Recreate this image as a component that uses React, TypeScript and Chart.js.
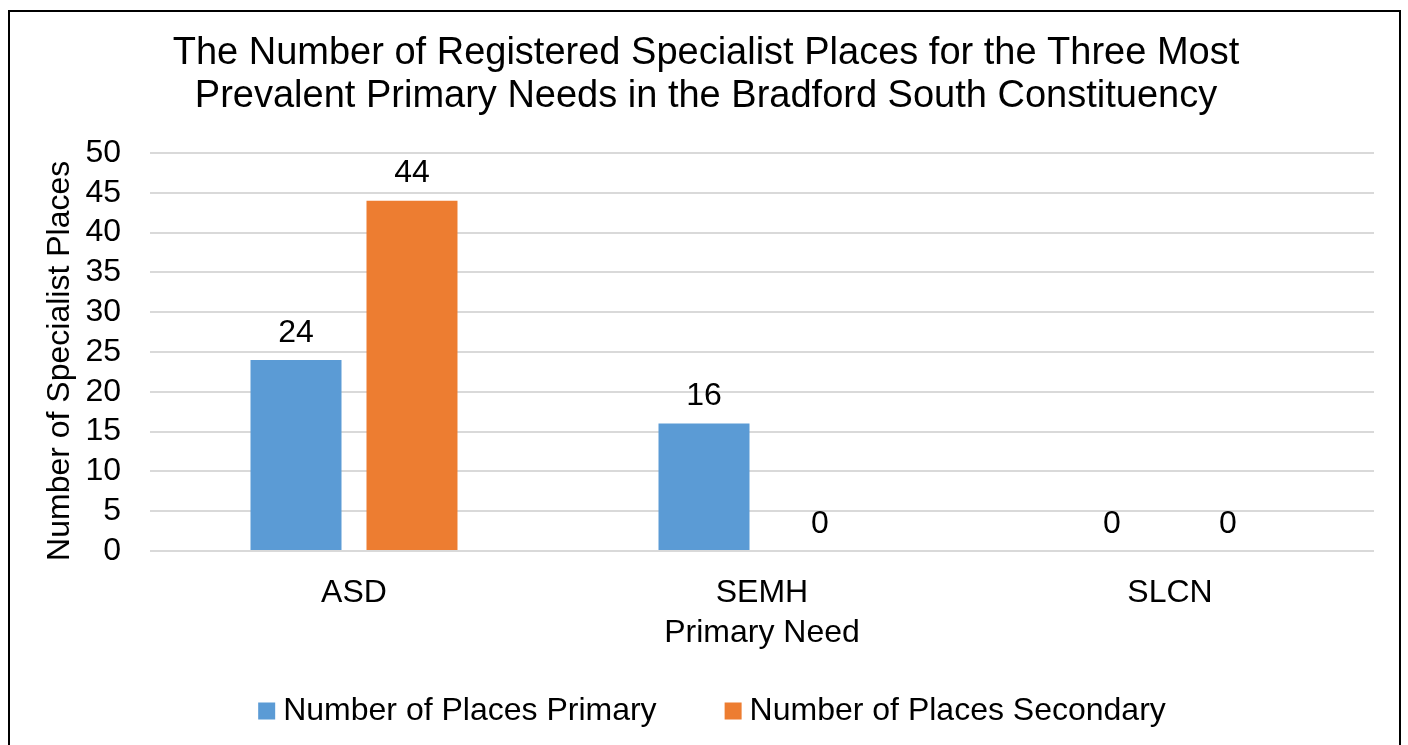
import React, { useEffect, useRef } from 'react';
import { Chart, registerables } from 'chart.js';

Chart.register(...registerables);

const categories = ['ASD', 'SEMH', 'SLCN'];
const primaryPlaces = [24, 16, 0];
const secondaryPlaces = [44, 0, 0];
const seriesLabels = ['Number of Places Primary', 'Number of Places Secondary'];
const seriesColors = ['#5B9BD5', '#ED7D31'];
const titleLines = [
  'The Number of Registered Specialist Places for the Three Most',
  'Prevalent Primary Needs in the Bradford South Constituency',
];
const xAxisTitle = 'Primary Need';
const yAxisTitle = 'Number of Specialist Places';
const yMin = 0;
const yMax = 50;
const yStep = 5;

const FONT = "'Liberation Sans', Arial, sans-serif";

const valueLabelPlugin = {
  id: 'valueLabels',
  afterDatasetsDraw(chart: any) {
    const ctx = chart.ctx;
    ctx.save();
    ctx.font = `32px ${FONT}`;
    ctx.fillStyle = '#000';
    ctx.textAlign = 'center';
    ctx.textBaseline = 'middle';
    chart.data.datasets.forEach((ds: any, i: number) => {
      const meta = chart.getDatasetMeta(i);
      meta.data.forEach((el: any, j: number) => {
        ctx.fillText(String(ds.data[j]), el.x, el.y - 27);
      });
    });
    ctx.restore();
  },
};

const customLegendPlugin = {
  id: 'customLegend',
  afterDraw(chart: any) {
    const ctx = chart.ctx;
    ctx.save();
    ctx.font = `32px ${FONT}`;
    ctx.textBaseline = 'middle';
    ctx.textAlign = 'left';
    const box = 17;
    const gapText = 8;
    const gapItem = 68;
    const items = chart.data.datasets.map((d: any) => ({
      label: d.label,
      color: d.backgroundColor,
      w: ctx.measureText(d.label).width,
    }));
    const total =
      items.reduce((s: number, it: any) => s + box + gapText + it.w, 0) +
      gapItem * (items.length - 1);
    let x = 712 - total / 2;
    const y = 711;
    items.forEach((it: any) => {
      ctx.fillStyle = it.color;
      ctx.fillRect(x, y - box / 2, box, box);
      ctx.fillStyle = '#000';
      ctx.fillText(it.label, x + box + gapText, y);
      x += box + gapText + it.w + gapItem;
    });
    ctx.restore();
  },
};

export default function App() {
  const canvasRef = useRef<HTMLCanvasElement | null>(null);

  useEffect(() => {
    if (!canvasRef.current) return;
    const chart = new Chart(canvasRef.current, {
      type: 'bar',
      data: {
        labels: categories,
        datasets: [
          {
            label: seriesLabels[0],
            data: primaryPlaces,
            backgroundColor: seriesColors[0],
            categoryPercentage: 0.5686,
            barPercentage: 0.7845,
          },
          {
            label: seriesLabels[1],
            data: secondaryPlaces,
            backgroundColor: seriesColors[1],
            categoryPercentage: 0.5686,
            barPercentage: 0.7845,
          },
        ],
      },
      options: {
        responsive: false,
        animation: false,
        layout: { padding: { left: 4, right: 0, top: 0, bottom: 84 } },
        plugins: {
          legend: { display: false },
          tooltip: { enabled: false },
          title: {
            display: true,
            text: titleLines,
            color: '#000',
            font: { family: FONT, size: 38, weight: 'normal', lineHeight: 1.13 },
            padding: { top: 32, bottom: 35 },
          },
        },
        scales: {
          x: {
            grid: { display: false },
            border: { display: false },
            ticks: { color: '#000', font: { family: FONT, size: 32 }, padding: 15 },
            title: {
              display: true,
              text: xAxisTitle,
              color: '#000',
              font: { family: FONT, size: 32 },
              padding: { top: 0, bottom: 9 },
            },
            afterFit: (s: any) => {
              s.height = 110;
            },
          },
          y: {
            min: yMin,
            max: yMax,
            ticks: {
              stepSize: yStep,
              autoSkip: false,
              color: '#000',
              font: { family: FONT, size: 32 },
              padding: 29,
            },
            grid: { color: '#d9d9d9', lineWidth: 2, drawTicks: false },
            border: { display: false },
            title: {
              display: true,
              text: yAxisTitle + '  ',
              color: '#000',
              font: { family: FONT, size: 32 },
              padding: { top: 37, bottom: 0 },
            },
            afterFit: (s: any) => {
              s.width = 146;
            },
          },
          yRightSpace: {
            position: 'right',
            display: true,
            min: yMin,
            max: yMax,
            grid: { display: false },
            border: { display: false },
            ticks: { display: false },
            afterFit: (s: any) => {
              s.width = 34;
            },
          },
        },
      },
      plugins: [valueLabelPlugin, customLegendPlugin],
    } as any);
    return () => chart.destroy();
  }, []);

  return (
    <div style={{ position: 'fixed', left: 0, top: 0, width: 1408, height: 745, background: '#fff', overflow: 'hidden' }}>
      <canvas ref={canvasRef} width={1408} height={745} style={{ display: 'block' }} />
      <div
        style={{
          position: 'absolute',
          left: 8,
          top: 10,
          width: 1393,
          height: 800,
          border: '2px solid #000',
          boxSizing: 'border-box',
          pointerEvents: 'none',
        }}
      />
    </div>
  );
}
